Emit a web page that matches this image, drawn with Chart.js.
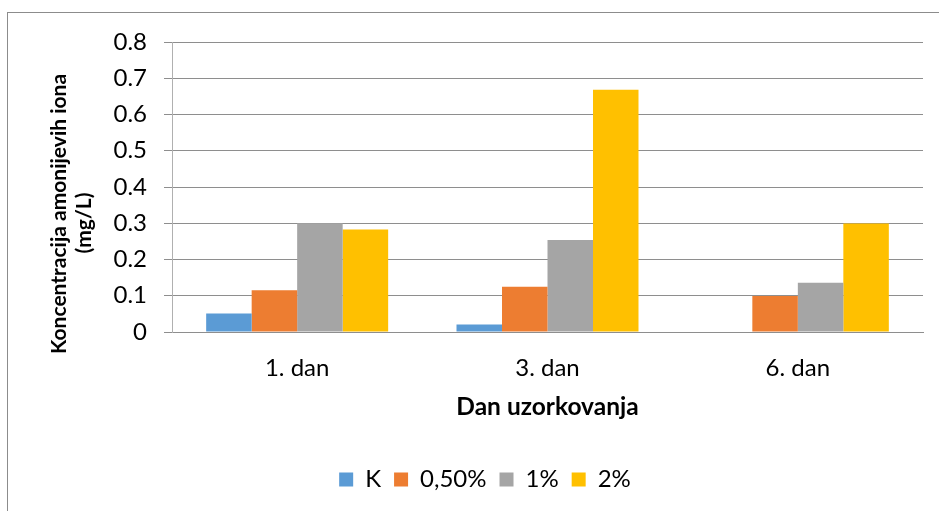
<!DOCTYPE html>
<html>
<head>
<meta charset="utf-8">
<script src="https://cdn.jsdelivr.net/npm/chart.js@4.4.1/dist/chart.umd.min.js"></script>
<style>
  html, body { margin: 0; padding: 0; background: #fff; overflow: hidden; }
  .frame {
    position: absolute; left: 7px; top: 12px; width: 1100px; height: 600px;
    border-left: 1px solid #8c8c8c; border-top: 1px solid #8c8c8c;
  }
  .chartBox { position: absolute; left: 0; top: 0; width: 970px; height: 511px; }
</style>
</head>
<body>
<div class="frame"></div>
<div class="chartBox"><canvas id="amonijChart"></canvas></div>
<script>
const days = ["1. dan", "3. dan", "6. dan"];
const seriesNames = ["K", "0,50%", "1%", "2%"];
const valK = [0.051, 0.021, 0];
const val050 = [0.115, 0.125, 0.099];
const val1 = [0.300, 0.254, 0.136];
const val2 = [0.283, 0.668, 0.299];
const colors = ["#5B9BD5", "#ED7D31", "#A5A5A5", "#FFC000"];
const yTicks = [0, 0.1, 0.2, 0.3, 0.4, 0.5, 0.6, 0.7, 0.8];

const FONT = "Lato, 'Open Sans', sans-serif";

// rotated two-line y axis title
const yTitle = {
  id: "yTitle",
  afterDraw: (chart) => {
    const ctx = chart.ctx;
    ctx.save();
    ctx.fillStyle = "#000";
    ctx.font = "bold 21px " + FONT;
    ctx.textAlign = "center";
    ctx.textBaseline = "alphabetic";
    [["Koncentracija amonijevih iona", 66, 214], ["(mg/L)", 91, 223]].forEach(([txt, x, y]) => {
      ctx.save();
      ctx.translate(x, y);
      ctx.rotate(-Math.PI / 2);
      ctx.fillText(txt, 0, 0);
      ctx.restore();
    });
    ctx.restore();
  },
};

const allValues = [valK, val050, val1, val2];
const data = {
  labels: days,
  datasets: seriesNames.map((name, i) => ({
    label: name,
    data: allValues[i],
    backgroundColor: colors[i],
    borderWidth: 0,
    categoryPercentage: 0.727,
    barPercentage: 1,
  })),
};

const config = {
  type: "bar",
  data: data,
  options: {
    responsive: true,
    maintainAspectRatio: false,
    animation: false,
    layout: {
      padding: { left: 0, right: 0, top: 42, bottom: 9.5 },
    },
    plugins: {
      tooltip: { enabled: false },
      legend: {
        position: "bottom",
        labels: {
          boxWidth: 14,
          boxHeight: 14,
          padding: 13,
          color: "#000",
          font: { family: FONT, size: 24 },
        },
      },
    },
    scales: {
      x: {
        afterFit: (scale) => { scale.height = 122.5; },
        grid: { display: false, drawTicks: false },
        border: { display: true, color: "#8e8e8e", width: 1 },
        ticks: { color: "#000", padding: 22, maxRotation: 0, font: { family: FONT, size: 24 } },
        title: {
          display: true,
          text: "Dan uzorkovanja",
          color: "#000",
          font: { family: FONT, size: 24.5, weight: "bold" },
          padding: { top: 10, bottom: 32.8 },
        },
      },
      y: {
        min: 0,
        max: 0.8,
        afterFit: (scale) => { scale.width = 172; },
        afterBuildTicks: (scale) => { scale.ticks = yTicks.map((v) => ({ value: v })); },
        grid: { color: "#8e8e8e", lineWidth: 1, tickLength: 8, drawTicks: true },
        border: { display: true, color: "#b0b0b0", width: 1 },
        ticks: { color: "#000", padding: 17, font: { family: FONT, size: 24 } },
      },
      // empty strip on the right side of the plot
      yRight: {
        position: "right",
        afterFit: (scale) => { scale.width = 47; },
        grid: { display: false, drawTicks: false },
        border: { display: false },
        ticks: { display: false },
      },
    },
  },
  plugins: [yTitle],
};

new Chart(document.getElementById("amonijChart").getContext("2d"), config);
</script>
</body>
</html>
